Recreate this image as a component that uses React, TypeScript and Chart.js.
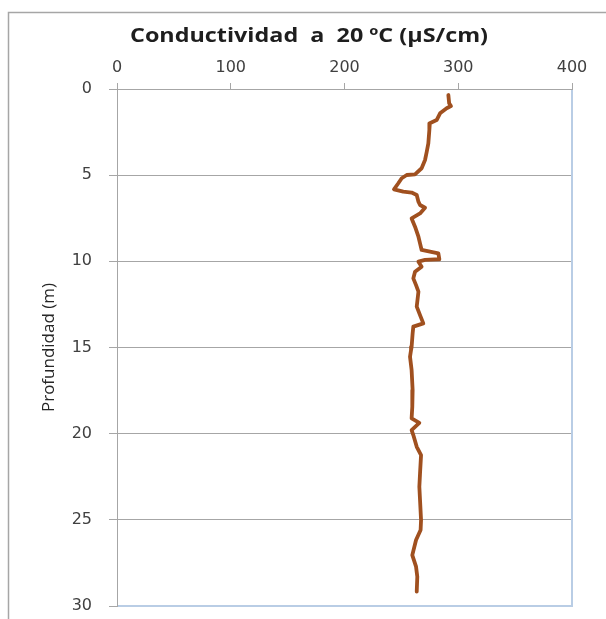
import React, { useEffect, useRef } from "react";
import { Chart, registerables } from "chart.js";

Chart.register(...registerables);

const chartTitle = "Conductividad  a  20 ºC (µS/cm)";
const yAxisTitle = "Profundidad (m)";

// depth (m) of each reading, top to bottom
const depths = [
  0.35, 0.83, 0.99, 1.12, 1.41, 1.8, 1.99, 2.38, 3.15, 3.64, 4.12, 4.6, 4.95, 4.99,
  5.18, 5.47, 5.82, 5.96, 6.01, 6.15, 6.54, 6.73, 6.89, 7.22, 7.51, 7.99, 8.57, 8.96,
  9.34, 9.54, 9.88, 9.92, 10.02, 10.31, 10.6, 10.99, 11.38, 11.76, 12.63, 13.12, 13.6,
  13.79, 14.18, 14.96, 15.15, 15.54, 16.31, 17.47, 18.44, 19.11, 19.37, 19.79, 20.08,
  20.76, 21.24, 22.3, 23.08, 23.85, 25.01, 25.59, 26.17, 27.05, 27.72, 28.3, 29.17,
];

// conductivity at 20 ºC (µS/cm) for each depth
const conductivity = [
  291.3, 292, 293.6, 289.8, 284, 281, 275, 274.6, 273.7, 272.3, 270.8, 267.8, 262, 254.7,
  250.3, 247.3, 243.5, 251.7, 259, 263.5, 265, 266.4, 270.8, 266.4, 259, 262, 265, 266.4,
  267.8, 282.5, 283.4, 270.8, 265, 267.8, 262, 260.5, 262.9, 265, 263.5, 266.4, 269.3,
  260.5, 259.9, 259, 258.5, 257.6, 259, 259.9, 259.6, 259, 265.8, 259, 260.5,
  263.5, 267.3, 266.4, 265.8, 266.4, 267.3, 266.9, 262.9, 259.6, 262.9, 264, 263.5,
];

const xMin = 0;
const xMax = 400;
const xStep = 100;
const yMin = 0;
const yMax = 30;
const yStep = 5;

const decorPlugin = {
  id: "decor",
  beforeDraw(chart: any) {
    const ctx = chart.ctx;
    ctx.save();
    ctx.fillStyle = "#ffffff";
    ctx.fillRect(0, 0, chart.width, chart.height);
    ctx.strokeStyle = "#a6a6a6";
    ctx.lineWidth = 1.5;
    ctx.beginPath();
    ctx.moveTo(8.5, chart.height);
    ctx.lineTo(8.5, 12.5);
    ctx.lineTo(chart.width, 12.5);
    ctx.stroke();
    ctx.restore();
  },
  beforeDatasetsDraw(chart: any) {
    const ctx = chart.ctx;
    const a = chart.chartArea;
    ctx.save();
    ctx.strokeStyle = "#b9cde5";
    ctx.lineWidth = 2;
    ctx.beginPath();
    ctx.moveTo(a.left + 1, a.bottom);
    ctx.lineTo(a.right, a.bottom);
    ctx.lineTo(a.right, a.top + 1);
    ctx.stroke();
    ctx.restore();
  },
  afterDraw(chart: any) {
    const ctx = chart.ctx;
    ctx.save();
    ctx.font = 'bold 20px "Open Sans", "DejaVu Sans", sans-serif';
    ctx.fillStyle = "#1e1e1e";
    ctx.textAlign = "center";
    ctx.textBaseline = "alphabetic";
    const w = ctx.measureText(chartTitle).width;
    const sx = w > 0 ? 358 / w : 1;
    ctx.translate(309, 42);
    ctx.scale(sx, 1);
    ctx.fillText(chartTitle, 0, 0);
    ctx.restore();
  },
};

export default function App() {
  const canvasRef = useRef<HTMLCanvasElement | null>(null);

  useEffect(() => {
    if (!canvasRef.current) return;
    const points = depths.map((d, i) => ({ x: conductivity[i], y: d }));
    const chart = new Chart(canvasRef.current, {
      type: "scatter",
      data: {
        datasets: [
          {
            label: "Conductividad",
            data: points,
            showLine: true,
            borderColor: "#a0501f",
            backgroundColor: "#a0501f",
            borderWidth: 3.8,
            pointRadius: 0,
            tension: 0,
            borderJoinStyle: "round",
            borderCapStyle: "round",
          },
        ],
      },
      options: {
        responsive: false,
        animation: false,
        layout: { padding: { left: 0, top: 0, right: 34, bottom: 13 } },
        plugins: {
          legend: { display: false },
          tooltip: { enabled: false },
          title: { display: false },
        },
        scales: {
          x: {
            type: "linear",
            position: "top",
            min: xMin,
            max: xMax,
            ticks: {
              stepSize: xStep,
              color: "#404040",
              font: { family: '"DejaVu Sans", sans-serif', size: 16 },
              padding: 6,
              maxRotation: 0,
            },
            grid: {
              display: true,
              drawOnChartArea: false,
              drawTicks: true,
              tickLength: 6,
              color: "#a6a6a6",
              tickColor: "#a6a6a6",
            },
            border: { display: true, color: "#a6a6a6", width: 1 },
            afterFit: (scale: any) => {
              scale.height = 89;
            },
          },
          y: {
            type: "linear",
            reverse: true,
            min: yMin,
            max: yMax,
            ticks: {
              stepSize: yStep,
              color: "#404040",
              font: { family: '"DejaVu Sans", sans-serif', size: 16 },
              padding: 17,
            },
            grid: {
              display: true,
              drawTicks: true,
              tickLength: 8,
              color: (c: any) =>
                c.tick && (c.tick.value === yMax || c.tick.value === yMin)
                  ? "rgba(0,0,0,0)"
                  : "#a6a6a6",
              tickColor: "#a6a6a6",
            },
            border: { display: true, color: "#a6a6a6", width: 1 },
            title: {
              display: true,
              text: yAxisTitle,
              color: "#262626",
              font: { family: '"Liberation Sans Narrow", "Open Sans", sans-serif', size: 17 },
              padding: { top: 39, bottom: 0 },
            },
            afterFit: (scale: any) => {
              scale.width = 117;
              scale.paddingTop = 0;
              scale.paddingBottom = 0;
            },
          },
        },
      },
      plugins: [decorPlugin],
    });
    return () => chart.destroy();
  }, []);

  return (
    <div style={{ position: "absolute", left: 0, top: 0, width: 606, height: 619 }}>
      <canvas ref={canvasRef} width={606} height={619} style={{ display: "block" }} />
    </div>
  );
}
